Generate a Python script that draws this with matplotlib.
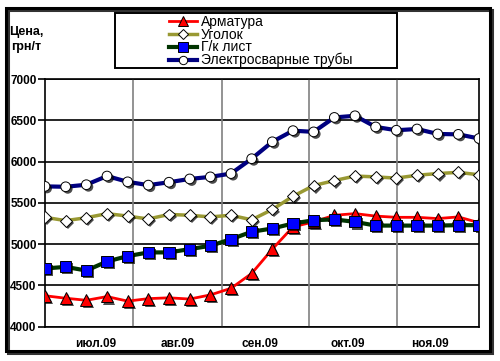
import matplotlib.pyplot as plt
import matplotlib.patheffects as pe
from matplotlib.patches import Rectangle

plt.rcParams['font.family'] = ['Liberation Sans', 'DejaVu Sans']

# еженедельные цены, грн/т
armatura = [4375, 4345, 4320, 4365, 4310, 4340, 4350, 4335, 4385, 4465, 4645,
            4940, 5210, 5270, 5350, 5370, 5340, 5325, 5325, 5310, 5330, 5260]
ugolok = [5325, 5285, 5320, 5370, 5340, 5305, 5360, 5350, 5330, 5350, 5295,
          5420, 5580, 5710, 5770, 5825, 5815, 5800, 5835, 5855, 5870, 5840]
list_gk = [4705, 4725, 4680, 4790, 4855, 4900, 4900, 4940, 4980, 5060, 5150,
           5190, 5250, 5290, 5300, 5270, 5225, 5225, 5225, 5225, 5230, 5230]
truby = [5700, 5695, 5720, 5825, 5755, 5715, 5750, 5790, 5815, 5855, 6035,
         6240, 6375, 6360, 6535, 6555, 6420, 6380, 6395, 6335, 6330, 6280]
weeks = list(range(len(truby)))

months = ['июл.09', 'авг.09', 'сен.09', 'окт.09', 'ноя.09']
month_pos = [2.47, 6.4, 10.4, 14.65, 18.65]   # подписи месяцев
month_edges = [4.27, 8.56, 12.77, 17.03]     # границы месяцев (сетка)

fig = plt.figure(figsize=(5, 3.61), dpi=100)
ax = fig.add_axes([0.09, 0.095, 0.868, 0.686])

shadow = [pe.SimplePatchShadow(offset=(1.5, -1.5), shadow_rgbFace='k', alpha=0.7), pe.Normal()]

series = [
    ('Арматура', armatura, '#FF0000', 2.0, '^', '#FF0000', 8.5),
    ('Уголок', ugolok, '#999933', 2.5, 'D', 'white', 6),
    ('Г/к лист', list_gk, '#003300', 3.0, 's', '#0000FF', 8),
    ('Электросварные трубы', truby, '#000080', 3.0, 'o', 'white', 7),
]
for name, vals, col, lw, mk, mfc, ms in series:
    ax.plot(weeks, vals, color=col, lw=lw, zorder=3)
    ax.plot(weeks, vals, ls='none', marker=mk, ms=ms, mfc=mfc, mec='k', mew=0.7,
            zorder=4, path_effects=shadow)

ax.set_xlim(0, 21)
ax.set_ylim(4000, 7000)
ax.set_yticks(range(4000, 7001, 500))
ax.grid(axis='y', color='black', lw=1.2)
for e in month_edges:
    ax.axvline(e, color='#808080', lw=1.2, zorder=1)
ax.set_xticks(month_pos)
ax.set_xticklabels(months)
ax.tick_params(axis='x', length=0, pad=8)
ax.tick_params(axis='y', length=5, width=1.2, direction='out', pad=1)
for lab in ax.get_xticklabels() + ax.get_yticklabels():
    lab.set_fontweight('bold')
    lab.set_fontsize(8.5)
for s in ax.spines.values():
    s.set_color('black')
    s.set_linewidth(1.2)
ax.set_axisbelow(True)

fig.text(0.052, 0.911, 'Цена,', ha='center', va='center', fontsize=9, fontweight='bold')
fig.text(0.052, 0.870, 'грн/т', ha='center', va='center', fontsize=9, fontweight='bold')

handles = []
for name, vals, col, lw, mk, mfc, ms in series:
    h, = ax.plot([], [], color=col, lw=lw, marker=mk, ms=ms - 1, mfc=mfc, mec='k', mew=0.7)
    handles.append(h)
leg = fig.legend(handles, [s[0] for s in series], loc='upper left',
                 bbox_to_anchor=(0.338, 0.958), fontsize=10, frameon=False,
                 borderpad=0.0, labelspacing=-0.1, handlelength=2.0,
                 handletextpad=0.3, borderaxespad=0)
# рамка легенды
fig.patches.append(Rectangle((115 / 500, 1 - 68 / 361), 282 / 500, 55 / 361,
                             transform=fig.transFigure, fill=False, lw=1.4,
                             ec='black'))

# рамка вокруг диаграммы с тенью
fig.patches.append(Rectangle((8 / 500, 1 - 353 / 361), 484 / 500, 343 / 361,
                             transform=fig.transFigure, fill=False, lw=2.2,
                             ec='#333333', zorder=0))
fig.patches.append(Rectangle((6 / 500, 1 - 351 / 361), 484 / 500, 343 / 361,
                             transform=fig.transFigure, fill=False, lw=2.2,
                             ec='black', zorder=1))

fig.savefig('out.png', dpi=100)
